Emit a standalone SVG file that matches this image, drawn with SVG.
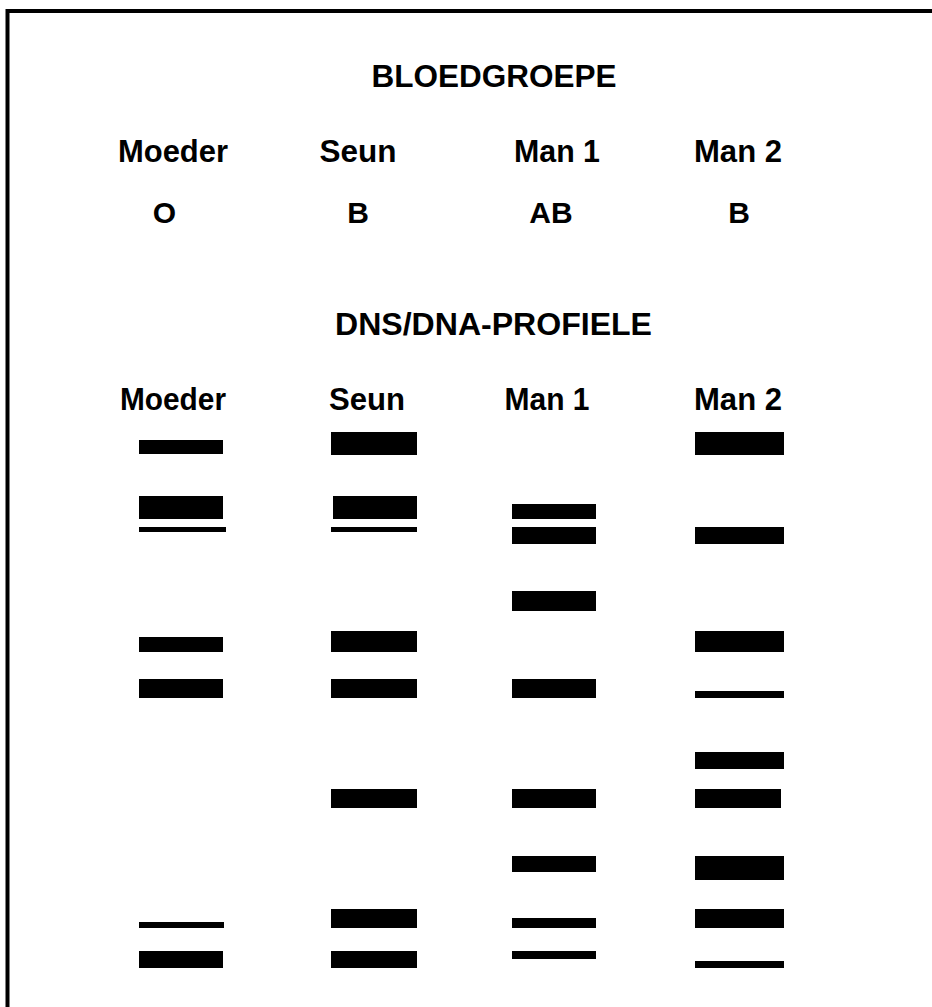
<svg xmlns="http://www.w3.org/2000/svg" width="932" height="1007" viewBox="0 0 932 1007">
<style>
text{font-family:"Liberation Sans",Arial,sans-serif;font-weight:bold;fill:#000;text-anchor:middle}
.h{font-size:31px}
.t{font-size:30px}
.b{fill:#000}
</style>
<rect width="932" height="1007" fill="#fff"/>
<path d="M7.5,1007 V11 H932" fill="none" stroke="#000" stroke-width="4"/>
<g id="title-blood"><text x="494" y="87" style="font-size:31px" textLength="245" lengthAdjust="spacingAndGlyphs">BLOEDGROEPE</text></g>
<g id="blood-headers">
<text class="h" x="173" y="162" textLength="110" lengthAdjust="spacingAndGlyphs">Moeder</text>
<text class="h" x="358" y="162" textLength="77" lengthAdjust="spacingAndGlyphs">Seun</text>
<text class="h" x="557" y="162" textLength="86" lengthAdjust="spacingAndGlyphs">Man 1</text>
<text class="h" x="738" y="162" textLength="88" lengthAdjust="spacingAndGlyphs">Man 2</text>
</g>
<g id="blood-types">
<text class="t" x="164.5" y="223">O</text>
<text class="t" x="358" y="223">B</text>
<text class="t" x="551" y="223">AB</text>
<text class="t" x="739" y="223">B</text>
</g>
<g id="title-dna"><text x="493.5" y="335" style="font-size:31px" textLength="317" lengthAdjust="spacingAndGlyphs">DNS/DNA-PROFIELE</text></g>
<g id="dna-headers">
<text class="h" x="173" y="410" textLength="106" lengthAdjust="spacingAndGlyphs">Moeder</text>
<text class="h" x="367" y="410" textLength="76" lengthAdjust="spacingAndGlyphs">Seun</text>
<text class="h" x="547" y="410" textLength="85" lengthAdjust="spacingAndGlyphs">Man 1</text>
<text class="h" x="738" y="410" textLength="88" lengthAdjust="spacingAndGlyphs">Man 2</text>
</g>
<g id="lane-moeder" class="b">
<rect x="139" y="440" width="84" height="14"/>
<rect x="139" y="496" width="84" height="23"/>
<rect x="139" y="527" width="87" height="5"/>
<rect x="139" y="637" width="84" height="15"/>
<rect x="139" y="679" width="84" height="19"/>
<rect x="139" y="922" width="85" height="6"/>
<rect x="139" y="951" width="84" height="17"/>
</g>
<g id="lane-seun" class="b">
<rect x="331" y="432" width="86" height="23"/>
<rect x="333" y="496" width="84" height="23"/>
<rect x="331" y="527" width="86" height="5"/>
<rect x="331" y="631" width="86" height="21"/>
<rect x="331" y="679" width="86" height="19"/>
<rect x="331" y="789" width="86" height="19"/>
<rect x="331" y="909" width="86" height="19"/>
<rect x="331" y="951" width="86" height="17"/>
</g>
<g id="lane-man1" class="b">
<rect x="512" y="504" width="84" height="15"/>
<rect x="512" y="527" width="84" height="17"/>
<rect x="512" y="591" width="84" height="20"/>
<rect x="512" y="679" width="84" height="19"/>
<rect x="512" y="789" width="84" height="19"/>
<rect x="512" y="856" width="84" height="16"/>
<rect x="512" y="918" width="84" height="10"/>
<rect x="512" y="951" width="84" height="8"/>
</g>
<g id="lane-man2" class="b">
<rect x="695" y="432" width="89" height="23"/>
<rect x="695" y="527" width="89" height="17"/>
<rect x="695" y="631" width="89" height="21"/>
<rect x="695" y="691" width="89" height="7"/>
<rect x="695" y="752" width="89" height="17"/>
<rect x="695" y="789" width="86" height="19"/>
<rect x="695" y="856" width="89" height="24"/>
<rect x="695" y="909" width="89" height="19"/>
<rect x="695" y="961" width="89" height="7"/>
</g>
</svg>
